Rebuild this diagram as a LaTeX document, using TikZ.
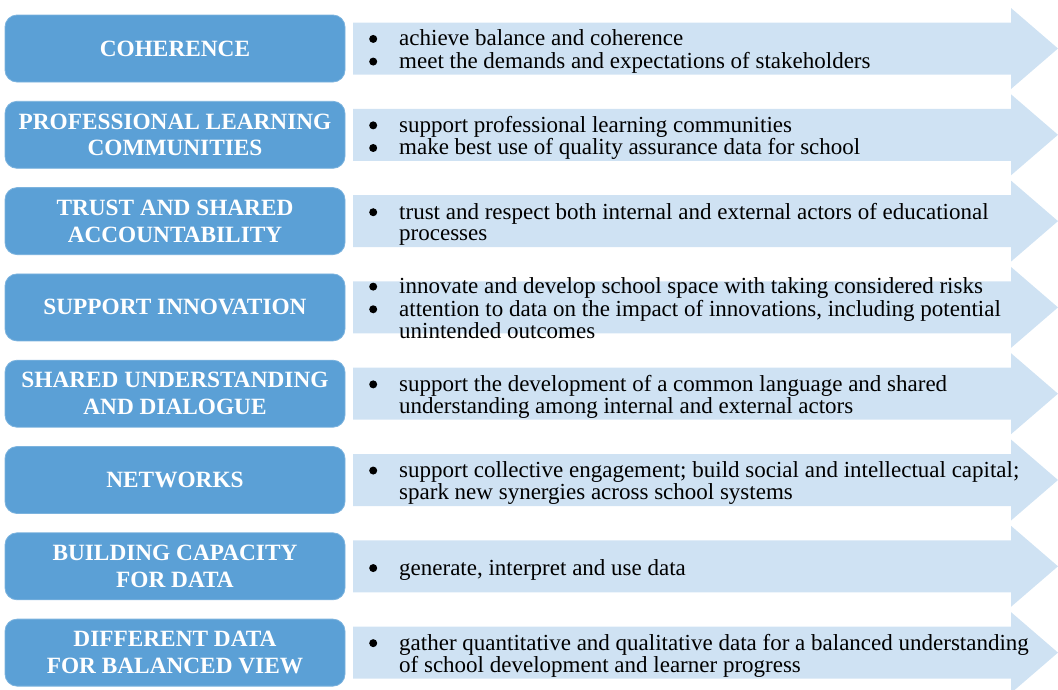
\documentclass[tikz,border=0pt]{standalone}
\usepackage{fontspec}
\setmainfont{Liberation Serif}
\definecolor{boxblue}{RGB}{91,160,214}
\definecolor{arrowblue}{RGB}{207,226,243}
\tikzset{
  catbox/.style={rounded corners=12pt, fill=boxblue, draw=boxblue!80!white, line width=0.8pt,
    minimum width=340pt, minimum height=67pt, inner sep=0pt,
    font=\fontsize{23.3}{26.7}\selectfont\bfseries, text=white, align=center},
  bullets/.style={anchor=west, inner sep=0pt, font=\fontsize{23}{21.5}\selectfont, text=black},
  arrowfill/.style={fill=arrowblue}
}
\newcommand\rowarrow[1]{%
  \fill[arrowfill] (353,{#1-26}) -- (1011,{#1-26}) -- (1011,{#1-40.5}) -- (1058,#1)
    -- (1011,{#1+40.5}) -- (1011,{#1+26}) -- (353,{#1+26}) -- cycle;}
\newcommand\bul{\raisebox{3pt}{\tikz\fill[black] (0,0) circle (4pt);}}
\begin{document}
\begin{tikzpicture}[x=1pt,y=-1pt]
\useasboundingbox (0,0) rectangle (1058,689);
\clip (0,0) rectangle (1058,689);
% arrows
\rowarrow{48.5}
\rowarrow{134.8}
\rowarrow{221.1}
\rowarrow{307.4}
\rowarrow{393.7}
\rowarrow{480.0}
\rowarrow{566.3}
\rowarrow{652.6}
% category boxes
\node[catbox] (c1) at (175,48.5) {COHERENCE};
\node[catbox] (c2) at (175,134.8) {PROFESSIONAL LEARNING\\COMMUNITIES};
\node[catbox] (c3) at (175,221.1) {TRUST AND SHARED\\ACCOUNTABILITY};
\node[catbox] (c4) at (175,307.4) {SUPPORT INNOVATION};
\node[catbox] (c5) at (175,393.7) {SHARED UNDERSTANDING\\AND DIALOGUE};
\node[catbox] (c6) at (175,480.0) {NETWORKS};
\node[catbox] (c7) at (175,566.3) {BUILDING CAPACITY\\FOR DATA};
\node[catbox] (c8) at (175,652.6) {DIFFERENT DATA\\FOR BALANCED VIEW};
% bullet texts
\node[bullets] (t1) at (369,52.5) {\begin{tabular}{@{}p{30pt}@{}l@{}}
\bul & achieve balance and coherence\\
\bul & meet the demands and expectations of stakeholders\end{tabular}};
\node[bullets] (t2) at (369,138.8) {\begin{tabular}{@{}p{30pt}@{}l@{}}
\bul & support professional learning communities\\
\bul & make best use of quality assurance data for school\end{tabular}};
\node[bullets] (t3) at (369,225.1) {\begin{tabular}{@{}p{30pt}@{}l@{}}
\bul & trust and respect both internal and external actors of educational\\
 & processes\end{tabular}};
\node[bullets] (t4) at (369,311.4) {\begin{tabular}{@{}p{30pt}@{}l@{}}
\bul & innovate and develop school space with taking considered risks\\
\bul & attention to data on the impact of innovations, including potential\\
 & unintended outcomes\end{tabular}};
\node[bullets] (t5) at (369,397.7) {\begin{tabular}{@{}p{30pt}@{}l@{}}
\bul & support the development of a common language and shared\\
 & understanding among internal and external actors\end{tabular}};
\node[bullets] (t6) at (369,484.0) {\begin{tabular}{@{}p{30pt}@{}l@{}}
\bul & support collective engagement; build social and intellectual capital;\\
 & spark new synergies across school systems\end{tabular}};
\node[bullets] (t7) at (369,570.3) {\begin{tabular}{@{}p{30pt}@{}l@{}}
\bul & generate, interpret and use data\end{tabular}};
\node[bullets] (t8) at (369,656.6) {\begin{tabular}{@{}p{30pt}@{}l@{}}
\bul & gather quantitative and qualitative data for a balanced understanding\\
 & of school development and learner progress\end{tabular}};
\end{tikzpicture}
\end{document}
